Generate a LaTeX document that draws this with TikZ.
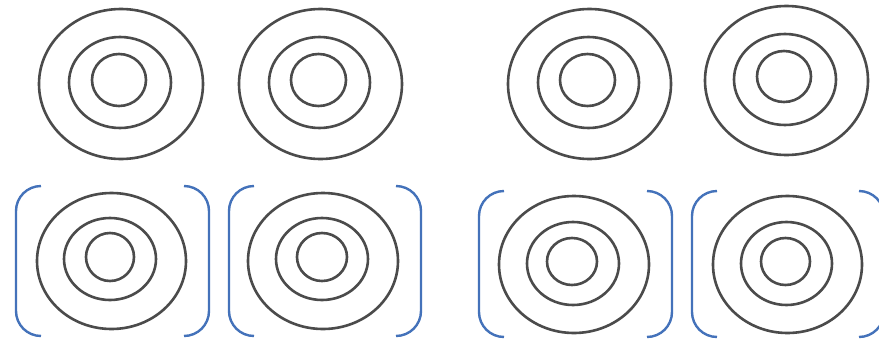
\documentclass[tikz,border=0pt]{standalone}
\usetikzlibrary{calc}
\definecolor{ringgray}{RGB}{75,75,75}
\definecolor{brkblue}{RGB}{68,114,186}
\tikzset{
  ring/.style={draw=ringgray, line width=2.6pt},
  brk/.style={draw=brkblue, line width=2.4pt, rounded corners=25pt},
}
\begin{document}
\begin{tikzpicture}[x=1pt,y=-1pt]
\useasboundingbox (0,0) rectangle (879,338);
\clip (0,0) rectangle (879,338);
\fill[white] (0,0) rectangle (879,338);
% top row targets
\draw[ring] (121,84) ellipse [x radius=82, y radius=75];
\draw[ring] (120,82.5) ellipse [x radius=51, y radius=45.5];
\draw[ring] (119,80) ellipse [x radius=27, y radius=26];

\draw[ring] (320.5,84) ellipse [x radius=81.5, y radius=75];
\draw[ring] (319.5,82.5) ellipse [x radius=50.5, y radius=45.5];
\draw[ring] (318.5,80) ellipse [x radius=27.5, y radius=26];

\draw[ring] (589.5,84) ellipse [x radius=81.5, y radius=75];
\draw[ring] (588.5,82.5) ellipse [x radius=50.5, y radius=45.5];
\draw[ring] (587.5,80) ellipse [x radius=27.5, y radius=26];

\draw[ring] (786.5,80.5) ellipse [x radius=81.5, y radius=74.5];
\draw[ring] (785,79.5) ellipse [x radius=51, y radius=45.5];
\draw[ring] (784,76.5) ellipse [x radius=27, y radius=25.5];

% bottom row targets
\draw[ring] (111.5,261) ellipse [x radius=74.5, y radius=68];
\draw[ring] (110,259) ellipse [x radius=46, y radius=41];
\draw[ring] (110,257) ellipse [x radius=24, y radius=24];

\draw[ring] (323,261) ellipse [x radius=75, y radius=68];
\draw[ring] (322,259) ellipse [x radius=46, y radius=41];
\draw[ring] (322,257) ellipse [x radius=25, y radius=24];

\draw[ring] (574,264.5) ellipse [x radius=75, y radius=68.5];
\draw[ring] (573,263.5) ellipse [x radius=46, y radius=41.5];
\draw[ring] (572,261.5) ellipse [x radius=25, y radius=23.5];

\draw[ring] (787.5,264.5) ellipse [x radius=74.5, y radius=68.5];
\draw[ring] (786.5,263.5) ellipse [x radius=45.5, y radius=41.5];
\draw[ring] (785.5,261.5) ellipse [x radius=24.5, y radius=23.5];

% brackets
\draw[brk] (41,186) -- (16,186) -- (16,336) -- (41,336);
\draw[brk] (184,186) -- (209,186) -- (209,336) -- (184,336);

\draw[brk] (254,186) -- (229,186) -- (229,336) -- (254,336);
\draw[brk] (396,186) -- (421,186) -- (421,336) -- (396,336);

\draw[brk] (504,191) -- (479,191) -- (479,337) -- (504,337);
\draw[brk] (647,191) -- (672,191) -- (672,337) -- (647,337);

\draw[brk] (717,191) -- (692,191) -- (692,337) -- (717,337);
\draw[brk] (859,191) -- (884,191) -- (884,337) -- (859,337);
\end{tikzpicture}
\end{document}
